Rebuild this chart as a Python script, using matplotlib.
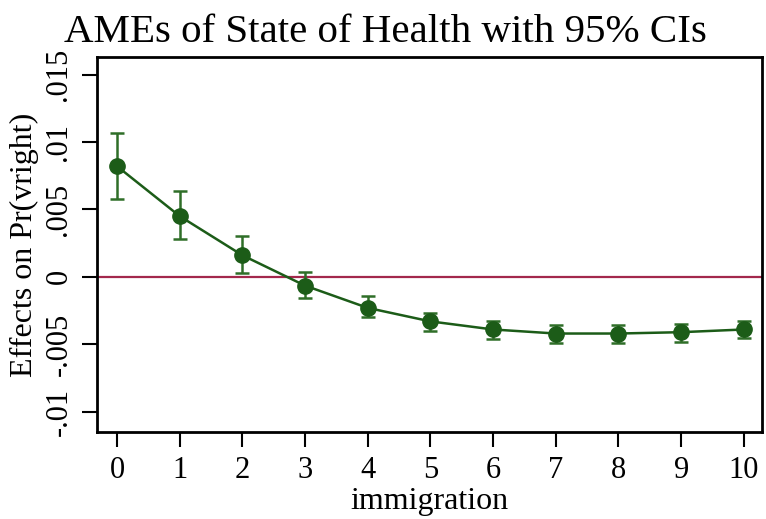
import matplotlib.pyplot as plt

# Data
immigration = [0, 1, 2, 3, 4, 5, 6, 7, 8, 9, 10]
ame = [0.0082, 0.0045, 0.0016, -0.00065, -0.0023, -0.0033, -0.0039, -0.0042, -0.0042, -0.0041, -0.0039]
ci_low = [0.0058, 0.0028, 0.0003, -0.0016, -0.0030, -0.0040, -0.0046, -0.0049, -0.0049, -0.0048, -0.0045]
ci_high = [0.0107, 0.0064, 0.0030, 0.00035, -0.00145, -0.00265, -0.0033, -0.0036, -0.0036, -0.0035, -0.0033]
yticks = [-0.01, -0.005, 0, 0.005, 0.01, 0.015]
ytick_labels = ["-.01", "-.005", "0", ".005", ".01", ".015"]

plt.rcParams["font.family"] = "Liberation Serif"

fig = plt.figure(figsize=(7.66, 5.19), dpi=100)
ax = fig.add_axes([97 / 766, 1 - 432 / 519, 665 / 766, 375 / 519])

green = "#1c5c18"
yerr = [[a - l for a, l in zip(ame, ci_low)], [h - a for a, h in zip(ame, ci_high)]]
ax.axhline(0, color="#a3284c", lw=1.6, zorder=1)
ax.errorbar(immigration, ame, yerr=yerr, fmt="none", ecolor="#2f6e28",
            elinewidth=1.8, capsize=5, capthick=1.8, zorder=2)
ax.plot(immigration, ame, color=green, marker="o", ms=11, lw=1.8, zorder=3)

ax.set_xlim(-0.32, 10.29)
ax.set_ylim(-0.0115, 0.0163)
ax.set_xticks(immigration)
ax.set_yticks(yticks)
ax.set_yticklabels(ytick_labels, rotation=90, va="center")
ax.tick_params(labelsize=22, length=11, width=1.5, direction="out", pad=6)
for s in ax.spines.values():
    s.set_linewidth(2)

ax.set_xlabel("immigration", fontsize=23, labelpad=2)
ax.set_ylabel("Effects on Pr(vright)", fontsize=23, labelpad=4)
fig.text(0.5 * (65 + 705) / 766, 1 - 32 / 519, "AMEs of State of Health with 95% CIs",
         fontsize=29.5, ha="center", va="center")

fig.savefig("out.png", dpi=100, facecolor="white")
